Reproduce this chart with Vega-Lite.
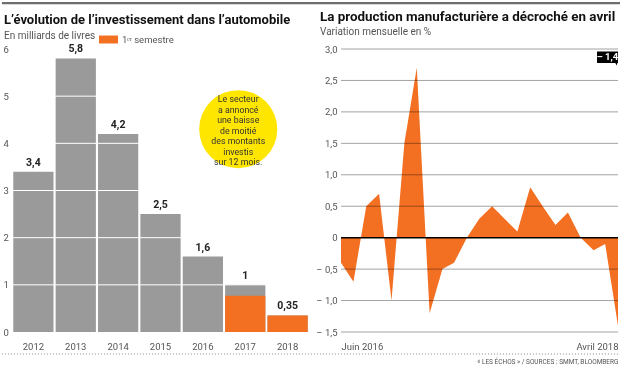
{
  "$schema": "https://vega.github.io/schema/vega-lite/v6.json",
  "background": "white",
  "padding": {"left": 0, "top": 1, "right": 0, "bottom": 0},
  "spacing": 32,
  "bounds": "flush",
  "config": {
    "font": "Roboto",
    "view": {"stroke": null},
    "axis": {"labelOverlap": false},
    "locale": {
      "number": {"decimal": ",", "thousands": " ", "grouping": [3], "currency": ["", " €"], "minus": "– "},
      "time": {
        "dateTime": "%A %e %B %Y à %X",
        "date": "%d/%m/%Y",
        "time": "%H:%M:%S",
        "periods": ["AM", "PM"],
        "days": ["dimanche", "lundi", "mardi", "mercredi", "jeudi", "vendredi", "samedi"],
        "shortDays": ["dim.", "lun.", "mar.", "mer.", "jeu.", "ven.", "sam."],
        "months": ["Janvier", "Février", "Mars", "Avril", "Mai", "Juin", "Juillet", "Août", "Septembre", "Octobre", "Novembre", "Décembre"],
        "shortMonths": ["janv.", "févr.", "mars", "avr.", "mai", "juin", "juil.", "août", "sept.", "oct.", "nov.", "déc."]
      }
    },
    "title": {"fontSize": 13, "fontWeight": 700, "color": "#111", "subtitleFontSize": 10, "subtitleColor": "#555", "subtitlePadding": 4, "anchor": "start", "frame": "group"}
  },
  "hconcat": [
    {
      "width": 297,
      "height": 283,
      "title": {"text": "L’évolution de l’investissement dans l’automobile", "subtitle": "En milliards de livres", "dx": -8, "fontSize": 13, "offset": 3},
      "data": {"values": [
        {"year": "2012", "total": 3.4, "s1": null},
        {"year": "2013", "total": 5.8, "s1": null},
        {"year": "2014", "total": 4.2, "s1": null},
        {"year": "2015", "total": 2.5, "s1": null},
        {"year": "2016", "total": 1.6, "s1": null},
        {"year": "2017", "total": 1, "s1": 0.77},
        {"year": "2018", "total": 0.35, "s1": 0.35}
      ]},
      "layer": [
        {
          "mark": {"type": "bar"},
          "encoding": {
            "x": {"field": "year", "type": "ordinal", "scale": {"paddingInner": 0.05, "paddingOuter": 0.03},
              "axis": {"title": null, "ticks": false, "tickSize": 0, "domain": false, "labelAngle": 0, "labelPadding": 9, "labelFontSize": 9.5, "labelColor": "#555"}},
            "y": {"field": "total", "type": "quantitative", "scale": {"domain": [0, 6]},
              "axis": {"title": null, "values": [0, 1, 2, 3, 4, 5, 6], "format": ".0f", "tickCount": 20, "grid": false, "ticks": false, "tickSize": 0, "domain": false, "labelAlign": "left", "labelPadding": 9, "labelFontSize": 9.5, "labelColor": "#555"}},
            "color": {"datum": "Année", "type": "nominal",
              "scale": {"domain": ["Année", "1ᵉʳ semestre"], "range": ["#9a9a9a", "#F36F21"]},
              "legend": {"orient": "none", "legendX": 87, "legendY": -19, "values": ["1ᵉʳ semestre"], "title": null, "direction": "horizontal",
                "symbolType": "M-1,-0.42H1V0.42H-1Z", "symbolSize": 361, "symbolStrokeWidth": 0, "labelFontSize": 9.5, "labelColor": "#555", "labelOffset": 4, "padding": 0}}
          }
        },
        {
          "transform": [{"filter": "datum.s1 != null"}],
          "mark": {"type": "bar"},
          "encoding": {
            "x": {"field": "year", "type": "ordinal"},
            "y": {"field": "s1", "type": "quantitative"},
            "color": {"datum": "1ᵉʳ semestre", "type": "nominal"}
          }
        },
        {
          "data": {"values": [{"gl": 1}, {"gl": 2}, {"gl": 3}, {"gl": 4}, {"gl": 5}]},
          "mark": {"type": "rule", "color": "white", "strokeWidth": 1},
          "encoding": {"y": {"field": "gl", "type": "quantitative"}}
        },
        {
          "mark": {"type": "text", "baseline": "bottom", "dy": -4, "fontSize": 10.5, "fontWeight": 700, "color": "#222"},
          "encoding": {
            "x": {"field": "year", "type": "ordinal"},
            "y": {"field": "total", "type": "quantitative"},
            "text": {"field": "total", "type": "quantitative", "format": ".2~f"}
          }
        },
        {
          "data": {"values": [{"year": "2017", "y": 4.3, "note": ["Le secteur", "a annoncé", "une baisse", "de moitié", "des montants", "investis", "sur 12 mois."]}]},
          "layer": [
            {
              "mark": {"type": "point", "shape": "circle", "filled": true, "size": 6100, "xOffset": -7, "color": "#FFE600", "opacity": 1},
              "encoding": {"x": {"field": "year", "type": "ordinal"}, "y": {"field": "y", "type": "quantitative"}}
            },
            {
              "mark": {"type": "text", "xOffset": -7, "dy": -30, "fontSize": 8.8, "lineHeight": 10.5, "align": "center", "baseline": "middle", "color": "#333"},
              "encoding": {"x": {"field": "year", "type": "ordinal"}, "y": {"field": "y", "type": "quantitative"}, "text": {"field": "note"}}
            }
          ]
        }
      ]
    },
    {
      "width": 277,
      "height": 283,
      "title": {"text": "La production manufacturière a décroché en avril", "subtitle": "Variation mensuelle en %", "dx": -21, "fontSize": 13.4, "offset": -35},
      "layer": [
        {
          "data": {"values": [
            {"date": "2016-06-01T00:00", "value": -0.4},
            {"date": "2016-07-01T00:00", "value": -0.7},
            {"date": "2016-08-01T00:00", "value": 0.5},
            {"date": "2016-09-01T00:00", "value": 0.7},
            {"date": "2016-10-01T00:00", "value": -1.0},
            {"date": "2016-11-01T00:00", "value": 1.5},
            {"date": "2016-12-01T00:00", "value": 2.7},
            {"date": "2017-01-01T00:00", "value": -1.2},
            {"date": "2017-02-01T00:00", "value": -0.5},
            {"date": "2017-03-01T00:00", "value": -0.4},
            {"date": "2017-04-01T00:00", "value": 0.0},
            {"date": "2017-05-01T00:00", "value": 0.3},
            {"date": "2017-06-01T00:00", "value": 0.5},
            {"date": "2017-07-01T00:00", "value": 0.3},
            {"date": "2017-08-01T00:00", "value": 0.1},
            {"date": "2017-09-01T00:00", "value": 0.8},
            {"date": "2017-10-01T00:00", "value": 0.5},
            {"date": "2017-11-01T00:00", "value": 0.2},
            {"date": "2017-12-01T00:00", "value": 0.4},
            {"date": "2018-01-01T00:00", "value": 0.0},
            {"date": "2018-02-01T00:00", "value": -0.2},
            {"date": "2018-03-01T00:00", "value": -0.1},
            {"date": "2018-04-01T00:00", "value": -1.4}
          ]},
          "mark": {"type": "area", "color": "#F36F21", "opacity": 1},
          "encoding": {
            "x": {"field": "date", "type": "temporal",
              "scale": {"domain": ["2016-06-01T00:00", "2018-04-01T00:00"]},
              "axis": {"values": ["2016-06-01T00:00", "2018-04-01T00:00"], "format": "%B %Y", "labelFlush": true,
                "ticks": false, "tickSize": 0, "domain": false, "grid": false, "labelPadding": 9, "labelFontSize": 9.5, "labelColor": "#555",
                "title": "« LES ÉCHOS » / SOURCES : SMMT, BLOOMBERG", "titleFontSize": 6.5, "titleFontWeight": "normal", "titleAnchor": "end", "titleColor": "#555", "titlePadding": 8}},
            "y": {"field": "value", "type": "quantitative", "scale": {"domain": [-1.5, 3]},
              "axis": {"title": null, "values": [-1.5, -1, -0.5, 0, 0.5, 1, 1.5, 2, 2.5, 3], "tickCount": 20, "format": ".1f", "labelExpr": "datum.value == 0 ? '0' : datum.label",
                "ticks": false, "tickSize": 0, "domain": false, "grid": false, "labelPadding": 4, "labelFontSize": 9.5, "labelColor": "#555"}}
          }
        },
        {
          "data": {"values": [{"gv": -1.5}, {"gv": -1}, {"gv": -0.5}, {"gv": 0.5}, {"gv": 1}, {"gv": 1.5}, {"gv": 2}, {"gv": 2.5}, {"gv": 3}]},
          "mark": {"type": "rule", "color": "#a3a3a3", "strokeWidth": 1, "blend": "multiply"},
          "encoding": {"y": {"field": "gv", "type": "quantitative"}}
        },
        {
          "data": {"values": [{"z": 0}]},
          "mark": {"type": "rule", "color": "#000", "strokeWidth": 1.5},
          "encoding": {"y": {"field": "z", "type": "quantitative"}}
        },
        {
          "data": {"values": [
            {"start": "2014-03-05T00:00", "end": "2018-04-11T00:00", "level": 3.73},
            {"start": "2014-03-05T00:00", "end": "2018-04-11T00:00", "level": -1.85}
          ]},
          "mark": {"type": "rule"},
          "encoding": {
            "x": {"field": "start", "type": "temporal"},
            "x2": {"field": "end"},
            "y": {"field": "level", "type": "quantitative"},
            "color": {"condition": {"test": "datum.level > 0", "value": "#6e6e6e"}, "value": "#8a8a8a"},
            "strokeWidth": {"condition": {"test": "datum.level > 0", "value": 2.2}, "value": 1},
            "strokeDash": {"condition": {"test": "datum.level > 0", "value": [4, 0]}, "value": [1, 2]}
          }
        },
        {
          "data": {"values": [{"date": "2018-04-01T00:00", "value": -1.4, "pos": 2.87}]},
          "layer": [
            {
              "mark": {"type": "point", "shape": "M-1,-0.55H1V0.55H0.95L0.85,0.8L0.75,0.55H-1Z", "filled": true, "size": 441, "xOffset": -10.5, "color": "#000", "opacity": 1},
              "encoding": {"x": {"field": "date", "type": "temporal"}, "y": {"field": "pos", "type": "quantitative"}}
            },
            {
              "mark": {"type": "text", "xOffset": -10.5, "fontSize": 9.5, "fontWeight": 700, "color": "white", "align": "center", "baseline": "middle"},
              "encoding": {"x": {"field": "date", "type": "temporal"}, "y": {"field": "pos", "type": "quantitative"}, "text": {"field": "value", "type": "quantitative", "format": ".1f"}}
            }
          ]
        }
      ]
    }
  ]
}
